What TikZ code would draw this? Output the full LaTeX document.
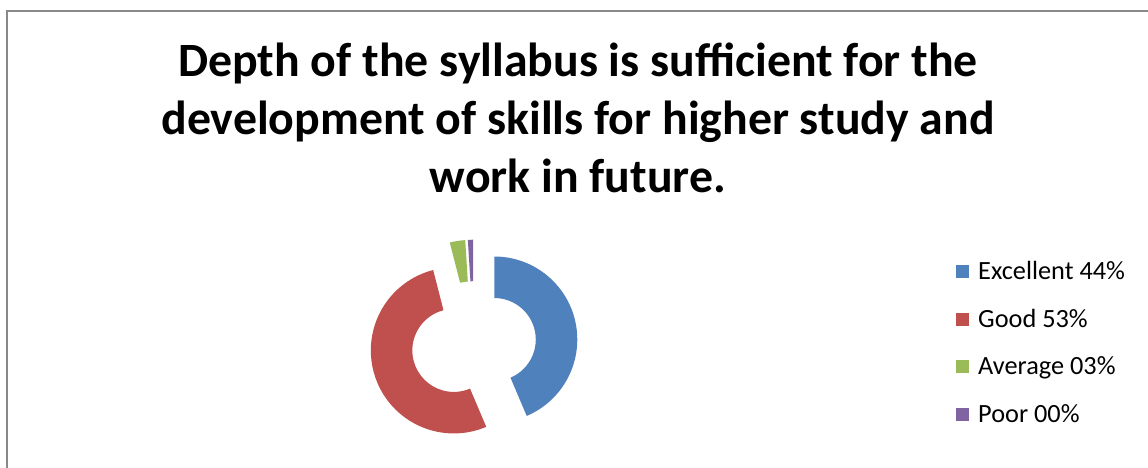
\documentclass[tikz,border=0pt]{standalone}
\usepackage{fontspec}
\setmainfont{Carlito}
\usetikzlibrary{calc}
\definecolor{cblue}{HTML}{4F81BD}
\definecolor{cred}{HTML}{C0504D}
\definecolor{cgreen}{HTML}{9BBB59}
\definecolor{cpurple}{HTML}{8064A2}
\definecolor{framecol}{HTML}{898989}
\newcommand\dslice[4]{%
  \pgfmathsetmacro\tha{90-#3}%
  \pgfmathsetmacro\thb{90-#4}%
  \pgfmathsetmacro\thm{90-(#3+#4)/2}%
  \coordinate (#1) at ($(C)+(\thm:21pt)$);
  \fill[#2] ($(#1)+(\tha:83pt)$) arc[start angle=\tha, end angle=\thb, radius=83pt]
    -- ($(#1)+(\thb:41.5pt)$) arc[start angle=\thb, end angle=\tha, radius=41.5pt] -- cycle;
}
\tikzset{
  titletext/.style={anchor=base, inner sep=0pt, font=\bfseries\fontsize{47.8}{56}\selectfont},
  legsq/.style={minimum size=13pt, inner sep=0pt, draw=none, fill=#1},
  legtext/.style={anchor=base west, inner sep=0pt, font=\fontsize{26.3}{31}\selectfont}
}
\begin{document}
\begin{tikzpicture}[x=1pt,y=1pt]
\useasboundingbox (0,0) rectangle (1148,468);
\fill[white] (0,0) rectangle (1148,468);
\coordinate (bl) at (7,-2);
\coordinate (tl) at (7,457);
\coordinate (tr) at (1150,457);
\draw[framecol, line width=2pt] (bl) -- (tl) -- (tr);

\node[titletext] (t1) at (578,391) {Depth of the syllabus is sufficient for the};
\node[titletext] (t2) at (578,333) {development of skills for higher study and};
\node[titletext] (t3) at (578,275) {work in future.};

\coordinate (C) at (473.7,124.3);
\dslice{sb}{cblue}{0}{157}
\dslice{sr}{cred}{157}{345.6}
\dslice{sg}{cgreen}{345.6}{356.4}
\dslice{sp}{cpurple}{356.4}{360}

\node[legsq=cblue] (q1) at (962.5,196) {};
\node[legsq=cred] (q2) at (962.5,148.5) {};
\node[legsq=cgreen] (q3) at (962.5,101) {};
\node[legsq=cpurple] (q4) at (962.5,53) {};
\node[legtext] (l1) at (978,188) {Excellent 44\%};
\node[legtext] (l2) at (978,140.5) {Good 53\%};
\node[legtext] (l3) at (978,93) {Average 03\%};
\node[legtext] (l4) at (978,45) {Poor 00\%};
\end{tikzpicture}
\end{document}
